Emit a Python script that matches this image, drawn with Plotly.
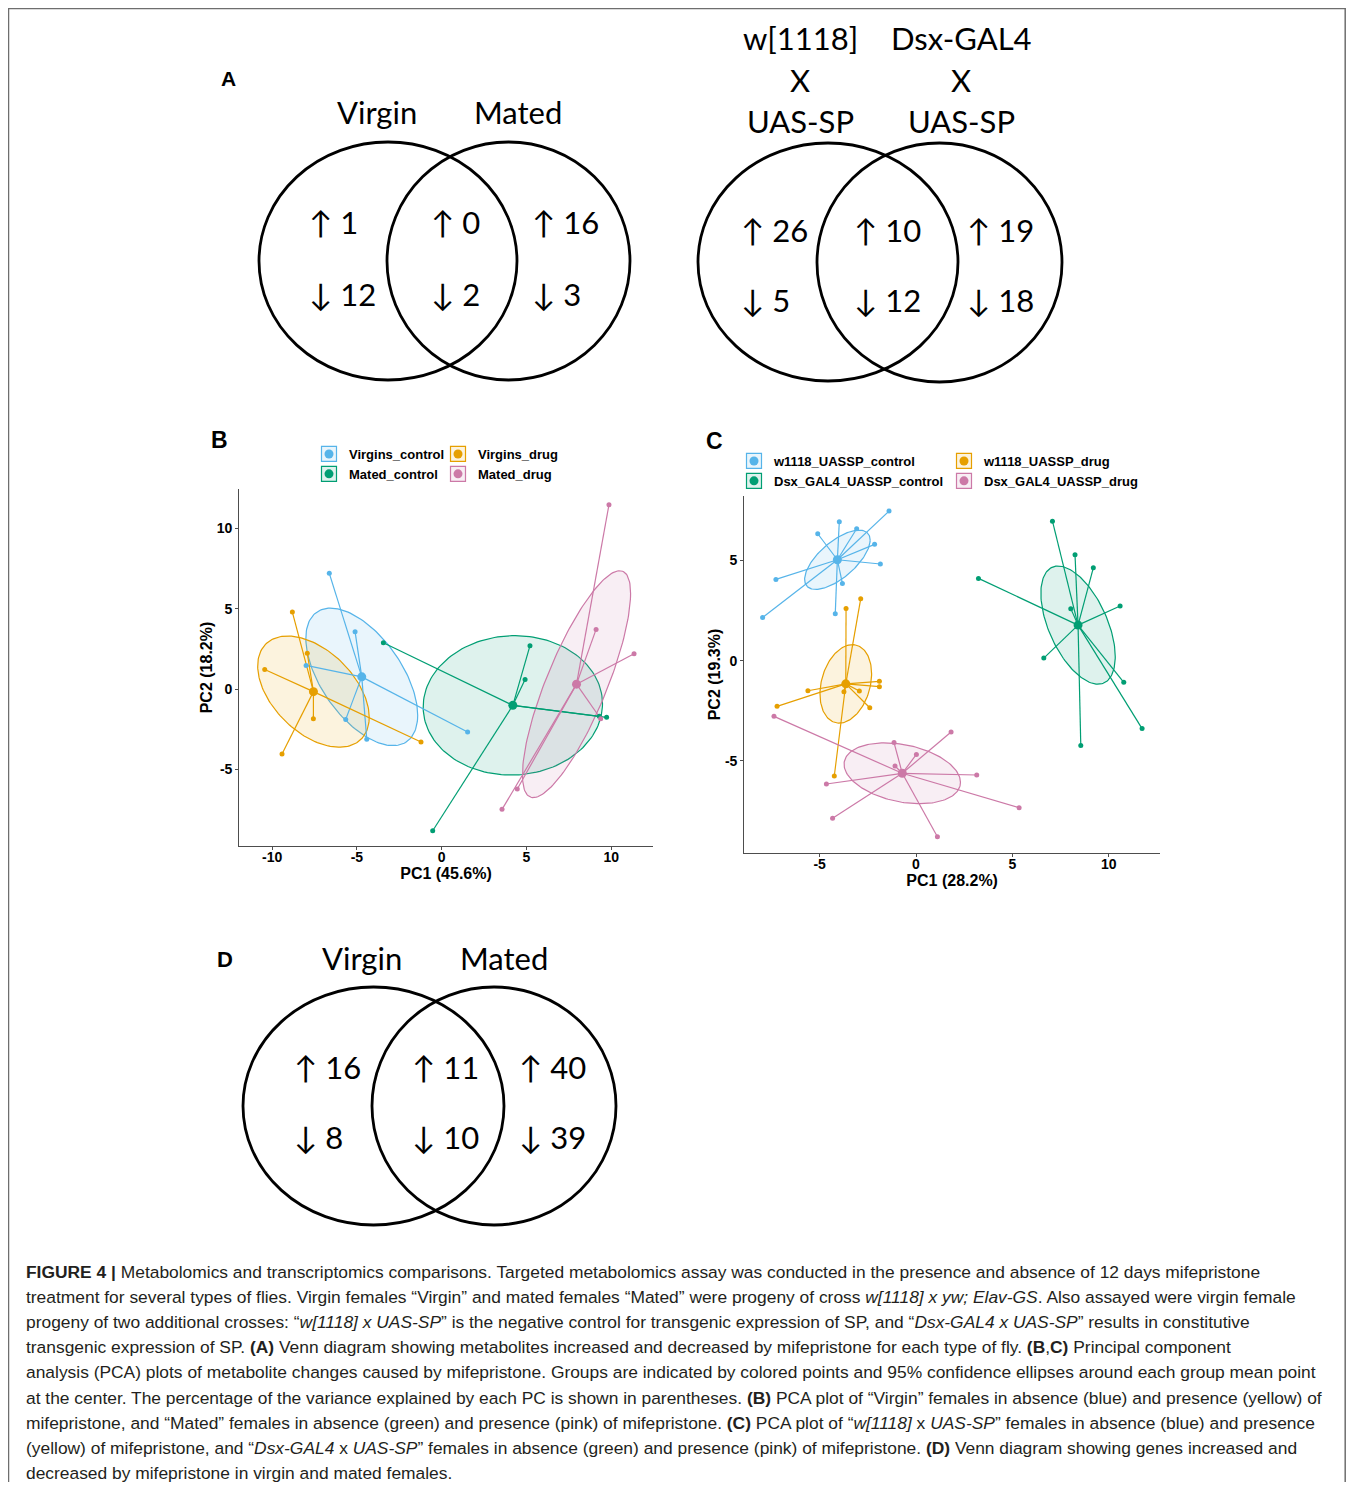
import numpy as np
import plotly.graph_objects as go

# The page adds an 8 px body margin, so the figure is sized and placed to fit the
# 1354x1490 window without overflowing it (coordinates below are window pixels).
OX, OY = 8, 8
W, H = 1354 - OX, 1490 - 2 * OY

# ---------------- Venn diagram data ----------------
VENN_A1_SETS = ["Virgin", "Mated"]
VENN_A1_UP = [1, 0, 16]        # left only, overlap, right only
VENN_A1_DOWN = [12, 2, 3]

VENN_A2_SETS = [["w[1118]", "X", "UAS-SP"], ["Dsx-GAL4", "X", "UAS-SP"]]
VENN_A2_UP = [26, 10, 19]
VENN_A2_DOWN = [5, 12, 18]

VENN_D_SETS = ["Virgin", "Mated"]
VENN_D_UP = [16, 11, 40]
VENN_D_DOWN = [8, 10, 39]

# ---------------- PCA panel B ----------------
B_GROUPS = ["Virgins_control", "Virgins_drug", "Mated_control", "Mated_drug"]
B_VIRGINS_CONTROL_PC1 = [-6.63, -5.11, -8.00, -5.66, -4.42, 1.53]
B_VIRGINS_CONTROL_PC2 = [7.20, 3.57, 1.47, -1.89, -3.13, -2.68]
B_VIRGINS_DRUG_PC1 = [-8.81, -7.93, -10.44, -7.57, -9.42, -1.22]
B_VIRGINS_DRUG_PC2 = [4.79, 2.22, 1.22, -1.85, -4.05, -3.30]
B_MATED_CONTROL_PC1 = [-3.44, 5.21, 4.92, 9.73, 9.30, -0.53]
B_MATED_CONTROL_PC2 = [2.88, 2.70, 0.60, -1.76, -1.70, -8.82]
B_MATED_DRUG_PC1 = [9.87, 9.11, 11.35, 9.38, 4.46, 3.56]
B_MATED_DRUG_PC2 = [11.47, 3.71, 2.20, -1.85, -6.22, -7.49]
# confidence ellipses: half-width (PC1), half-height (PC2), PC2 offset at rightmost point
B_ELL_HALF_W = [3.30, 3.29, 5.29, 3.19]
B_ELL_HALF_H = [4.28, 3.46, 4.34, 7.06]
B_ELL_TILT = [-2.39, -1.60, 0.10, 5.64]
B_XTICKS = [-10, -5, 0, 5, 10]
B_XTICKTEXT = ["-10", "-5", "0", "5", "10"]
B_YTICKS = [-5, 0, 5, 10]
B_YTICKTEXT = ["-5", "0", "5", "10"]

# ---------------- PCA panel C ----------------
C_GROUPS = ["w1118_UASSP_control", "w1118_UASSP_drug",
            "Dsx_GAL4_UASSP_control", "Dsx_GAL4_UASSP_drug"]
C_W1118_CONTROL_PC1 = [-1.40, -3.98, -3.08, -5.10, -2.15, -1.85, -7.27, -3.82, -4.19, -7.96]
C_W1118_CONTROL_PC2 = [7.47, 6.94, 6.59, 6.34, 5.81, 4.83, 4.06, 3.86, 2.35, 2.16]
C_W1118_DRUG_PC1 = [-2.87, -3.63, -1.90, -1.90, -5.61, -3.74, -2.94, -2.40, -7.21, -4.24]
C_W1118_DRUG_PC2 = [3.09, 2.61, -1.03, -1.30, -1.50, -1.55, -1.51, -2.35, -2.28, -5.76]
C_DSX_CONTROL_PC1 = [7.08, 8.25, 9.20, 3.24, 10.59, 8.03, 6.63, 10.78, 11.73, 8.55]
C_DSX_CONTROL_PC2 = [6.97, 5.29, 4.64, 4.11, 2.73, 2.60, 0.13, -1.08, -3.39, -4.23]
C_DSX_DRUG_PC1 = [1.82, -1.14, 0.02, -1.09, 3.15, -7.37, -4.65, 5.35, -4.33, 1.11]
C_DSX_DRUG_PC2 = [-3.56, -4.09, -4.68, -5.26, -5.71, -2.78, -6.16, -7.34, -7.87, -8.79]
C_ELL_HALF_W = [1.70, 1.34, 1.93, 3.02]
C_ELL_HALF_H = [1.48, 1.96, 2.95, 1.52]
C_ELL_TILT = [0.98, 0.50, -1.58, -0.45]
C_XTICKS = [-5, 0, 5, 10]
C_XTICKTEXT = ["-5", "0", "5", "10"]
C_YTICKS = [-5, 0, 5]
C_YTICKTEXT = ["-5", "0", "5"]

CAPTION_LINES = [
    "<b>FIGURE 4 |</b> Metabolomics and transcriptomics comparisons. Targeted metabolomics assay was conducted in the presence and absence of 12 days mifepristone",
    "treatment for several types of flies. Virgin females “Virgin” and mated females “Mated” were progeny of cross <i>w[1118] x yw; Elav-GS</i>. Also assayed were virgin female",
    "progeny of two additional crosses: “<i>w[1118] x UAS-SP</i>” is the negative control for transgenic expression of SP, and “<i>Dsx-GAL4 x UAS-SP</i>” results in constitutive",
    "transgenic expression of SP. <b>(A)</b> Venn diagram showing metabolites increased and decreased by mifepristone for each type of fly. <b>(B</b>,<b>C)</b> Principal component",
    "analysis (PCA) plots of metabolite changes caused by mifepristone. Groups are indicated by colored points and 95% confidence ellipses around each group mean point",
    "at the center. The percentage of the variance explained by each PC is shown in parentheses. <b>(B)</b> PCA plot of “Virgin” females in absence (blue) and presence (yellow) of",
    "mifepristone, and “Mated” females in absence (green) and presence (pink) of mifepristone. <b>(C)</b> PCA plot of “<i>w[1118]</i> x <i>UAS-SP</i>” females in absence (blue) and presence",
    "(yellow) of mifepristone, and “<i>Dsx-GAL4</i> x <i>UAS-SP</i>” females in absence (green) and presence (pink) of mifepristone. <b>(D)</b> Venn diagram showing genes increased and",
    "decreased by mifepristone in virgin and mated females.",
]

# ---------------- styles ----------------
COLORS = ["#56B4E9", "#E69F00", "#009E73", "#CC79A7"]
FILLS = ["rgba(86,180,233,0.13)", "rgba(230,159,0,0.13)",
         "rgba(0,158,115,0.13)", "rgba(204,121,167,0.13)"]
SANS = "Liberation Sans, Arial, Helvetica, sans-serif"
VENN_FONT = "Lato, Carlito, Open Sans, sans-serif"
AXC = "#4d4d4d"


def px(x):
    return (x - OX) / W


def py(y):
    return 1 - (y - OY) / H


def ellipse(cx, cy, hw, hh, k, n=160):
    t = np.linspace(0, 2 * np.pi, n)
    x = cx + hw * np.cos(t)
    y = cy + k * np.cos(t) + np.sqrt(max(hh * hh - k * k, 0.0)) * np.sin(t)
    return x, y


fig = go.Figure()


def add_pca(groups, pc1s, pc2s, hws, hhs, ks, xa, ya, leg_box, leg_dot):
    cents = [(float(np.mean(a)), float(np.mean(b))) for a, b in zip(pc1s, pc2s)]
    # ellipses
    for i in range(4):
        ex, ey = ellipse(cents[i][0], cents[i][1], hws[i], hhs[i], ks[i])
        fig.add_trace(go.Scatter(x=ex, y=ey, mode="lines", fill="toself",
                                 fillcolor=FILLS[i], line=dict(color=COLORS[i], width=1.2),
                                 showlegend=False, hoverinfo="skip", xaxis=xa, yaxis=ya))
    # star segments
    for i in range(4):
        sx, sy = [], []
        for x, y in zip(pc1s[i], pc2s[i]):
            sx += [cents[i][0], x, None]
            sy += [cents[i][1], y, None]
        fig.add_trace(go.Scatter(x=sx, y=sy, mode="lines",
                                 line=dict(color=COLORS[i], width=1.2),
                                 showlegend=False, hoverinfo="skip", xaxis=xa, yaxis=ya))
    # individual points
    for i in range(4):
        fig.add_trace(go.Scatter(x=pc1s[i], y=pc2s[i], mode="markers", name=groups[i],
                                 marker=dict(color=COLORS[i], size=5),
                                 showlegend=False, xaxis=xa, yaxis=ya))
    # legend boxes (two columns: controls / drugs)
    for col, idxs in enumerate([(0, 2), (1, 3)]):
        for i in idxs:
            fig.add_trace(go.Scatter(x=[None], y=[None], mode="markers", name=groups[i],
                                     marker=dict(symbol="square", size=15, color=FILLS[i],
                                                 line=dict(color=COLORS[i], width=1.2)),
                                     legend=leg_box[col], showlegend=True,
                                     hoverinfo="skip", xaxis=xa, yaxis=ya))
    # group means (also legend dots)
    for col, idxs in enumerate([(0, 2), (1, 3)]):
        for i in idxs:
            fig.add_trace(go.Scatter(x=[cents[i][0]], y=[cents[i][1]], mode="markers",
                                     name=groups[i], marker=dict(color=COLORS[i], size=9),
                                     legend=leg_dot[col], showlegend=True,
                                     xaxis=xa, yaxis=ya))


add_pca(B_GROUPS,
        [B_VIRGINS_CONTROL_PC1, B_VIRGINS_DRUG_PC1, B_MATED_CONTROL_PC1, B_MATED_DRUG_PC1],
        [B_VIRGINS_CONTROL_PC2, B_VIRGINS_DRUG_PC2, B_MATED_CONTROL_PC2, B_MATED_DRUG_PC2],
        B_ELL_HALF_W, B_ELL_HALF_H, B_ELL_TILT, "x", "y",
        ["legend", "legend3"], ["legend2", "legend4"])
add_pca(C_GROUPS,
        [C_W1118_CONTROL_PC1, C_W1118_DRUG_PC1, C_DSX_CONTROL_PC1, C_DSX_DRUG_PC1],
        [C_W1118_CONTROL_PC2, C_W1118_DRUG_PC2, C_DSX_CONTROL_PC2, C_DSX_DRUG_PC2],
        C_ELL_HALF_W, C_ELL_HALF_H, C_ELL_TILT, "x2", "y2",
        ["legend5", "legend7"], ["legend6", "legend8"])


def axis_style(domain, rng, tv, tt, title, anchor, standoff, lab_off):
    return dict(domain=domain, range=rng, anchor=anchor, tickvals=tv, ticktext=tt,
                showline=True, linecolor=AXC, linewidth=1.2, ticks="outside",
                ticklen=3, tickwidth=1.1, tickcolor=AXC, showgrid=False, zeroline=False,
                ticklabelstandoff=lab_off,
                tickfont=dict(family=SANS, size=14, color="black", weight="bold"),
                title=dict(text=title, standoff=standoff,
                           font=dict(family=SANS, size=16, color="black", weight="bold")),
                fixedrange=True)


layout_axes = dict(
    xaxis=axis_style([px(239.3), px(652.7)], [-11.94, 12.45], B_XTICKS, B_XTICKTEXT,
                     "PC1 (45.6%)", "y", 3, -5),
    yaxis=axis_style([py(846), py(489)], [-9.77, 12.45], B_YTICKS, B_YTICKTEXT,
                     "PC2 (18.2%)", "x", 0, 0),
    xaxis2=axis_style([px(744.3), px(1160)], [-8.91, 12.66], C_XTICKS, C_XTICKTEXT,
                      "PC1 (28.2%)", "y2", 3, -5),
    yaxis2=axis_style([py(853.3), py(495.7)], [-9.62, 8.24], C_YTICKS, C_YTICKTEXT,
                      "PC2 (19.3%)", "x2", 0, 0),
)


def leg(xtext, ytop, transparent):
    return dict(x=px(xtext - 40), y=py(ytop), xanchor="left", yanchor="top",
                orientation="v", bgcolor="rgba(0,0,0,0)", borderwidth=0,
                itemclick=False, itemdoubleclick=False,
                font=dict(family=SANS, size=13, weight="bold",
                          color="rgba(0,0,0,0)" if transparent else "black"))


legends = dict(
    legend=leg(349, 439, True), legend2=leg(349, 439, False),
    legend3=leg(478, 439, True), legend4=leg(478, 439, False),
    legend5=leg(774, 446, True), legend6=leg(774, 446, False),
    legend7=leg(984, 446, True), legend8=leg(984, 446, False),
)

shapes = []
annotations = []

# frame (right edge kept inside the visible page area)
for x0, y0, x1, y1 in [(8, 8.5, 1345.5, 8.5), (8.5, 8, 8.5, 1490), (1345.2, 8, 1345.2, 1490)]:
    shapes.append(dict(type="line", xref="paper", yref="paper", x0=px(x0), y0=py(y0),
                       x1=px(x1), y1=py(y1), line=dict(color="#6e6e6e", width=1.5)))


def venn(circles, up, down, num_x, up_y, down_y):
    for (x0, y0, x1, y1) in circles:
        shapes.append(dict(type="circle", xref="paper", yref="paper", x0=px(x0), y0=py(y0),
                           x1=px(x1), y1=py(y1), line=dict(color="black", width=2.8)))
    for i in range(3):
        annotations.append(dict(text="↑ " + str(up[i]), x=px(num_x[i]), y=py(up_y),
                                xref="paper", yref="paper", xanchor="left", yanchor="middle",
                                showarrow=False, font=dict(family=VENN_FONT, size=31, color="black")))
        annotations.append(dict(text="↓ " + str(down[i]), x=px(num_x[i]), y=py(down_y),
                                xref="paper", yref="paper", xanchor="left", yanchor="middle",
                                showarrow=False, font=dict(family=VENN_FONT, size=31, color="black")))


def label(text, x, y, size, family=VENN_FONT, weight="normal", anchor="center"):
    annotations.append(dict(text=text, x=px(x), y=py(y), xref="paper", yref="paper",
                            xanchor=anchor, yanchor="middle", showarrow=False,
                            font=dict(family=family, size=size, color="black", weight=weight)))


# Panel A, left Venn
venn([(259, 142, 517, 380), (387, 142, 630, 380)], VENN_A1_UP, VENN_A1_DOWN,
     [307, 429, 530], 222, 294)
label(VENN_A1_SETS[0], 377, 112, 31)
label(VENN_A1_SETS[1], 518, 112, 31)
# Panel A, right Venn
venn([(698, 143, 958, 381), (817, 143, 1062, 382)], VENN_A2_UP, VENN_A2_DOWN,
     [739, 852, 965], 230, 300)
for j, lx in enumerate([800, 961]):
    for line_txt, ly in zip(VENN_A2_SETS[j], [38, 80, 121]):
        label(line_txt, lx, ly, 31)
# Panel D Venn
venn([(243, 987, 504, 1225), (372, 987, 616, 1225)], VENN_D_UP, VENN_D_DOWN,
     [292, 410, 517], 1067, 1137)
label(VENN_D_SETS[0], 362, 958, 31)
label(VENN_D_SETS[1], 504, 958, 31)

# panel letters
label("A", 228, 78, 21, SANS, "bold")
label("B", 219, 440, 23, SANS, "bold")
label("C", 714, 441, 23, SANS, "bold")
label("D", 225, 960, 22, SANS, "bold")

# caption
for i, line_txt in enumerate(CAPTION_LINES):
    annotations.append(dict(text=line_txt, x=px(24), y=py(1272 + 25.1 * i),
                            xref="paper", yref="paper", xanchor="left", yanchor="middle",
                            align="left", showarrow=False,
                            font=dict(family=SANS, size=17.4, color="#231f20")))

fig.update_layout(
    width=W, height=H, margin=dict(l=0, r=0, t=0, b=0),
    paper_bgcolor="white", plot_bgcolor="rgba(0,0,0,0)",
    shapes=shapes, annotations=annotations, hovermode="closest",
    **layout_axes, **legends,
)

fig.write_html("out.html", config={"displayModeBar": False})
